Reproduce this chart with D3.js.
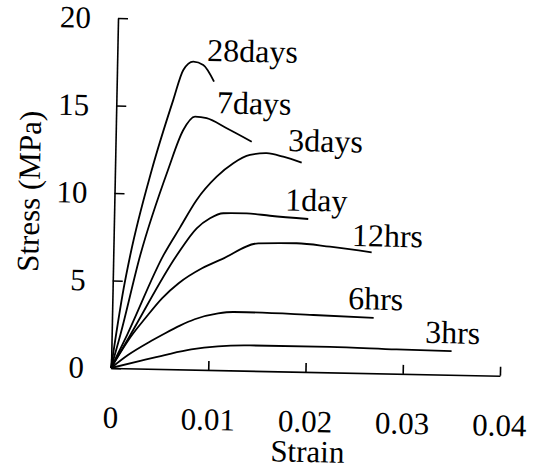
<!DOCTYPE html>
<html>
<head>
<meta charset="utf-8">
<script src="https://cdnjs.cloudflare.com/ajax/libs/d3/7.8.5/d3.min.js"></script>
<style>
  body { margin: 0; background: #fff; }
  svg { display: block; font-family: "Liberation Serif", "Times New Roman", serif; }
</style>
</head>
<body>
<svg id="chart" width="541" height="472"></svg>
<script>
// stress-strain curves, each point is [strain, stress in MPa]
const days28 = [[0, 0], [0.00114, 4.57], [0.00175, 6.48], [0.00378, 11.36], [0.00585, 15.39],
  [0.00682, 17.11], [0.00783, 17.6], [0.00886, 17.42], [0.0100, 16.48]];
const days7 = [[0, 0], [0.00089, 1.9], [0.00278, 6.49], [0.00545, 11.38], [0.00694, 13.68],
  [0.00812, 14.46], [0.00932, 14.38], [0.0114, 13.83], [0.0140, 13.09]];
const days3 = [[0, 0], [0.00158, 1.9], [0.00518, 6.52], [0.0068, 8.1], [0.00846, 9.7],
  [0.01047, 11.05], [0.01215, 11.84], [0.01385, 12.33], [0.01556, 12.45], [0.01727, 12.27], [0.01918, 11.95]];
const day1 = [[0, 0], [0.00192, 1.91], [0.00655, 6.53], [0.00852, 8.08], [0.00987, 8.67],
  [0.01122, 8.97], [0.01363, 8.99], [0.01603, 8.88], [0.01997, 8.74]];
const hrs12 = [[0, 0], [0.00209, 1.91], [0.00342, 2.88], [0.0051, 4.04], [0.00678, 4.92],
  [0.00915, 5.8], [0.01119, 6.35], [0.01488, 7.29], [0.01883, 7.34], [0.02226, 7.18], [0.02656, 6.91]];
const hrs6 = [[0, 0], [0.00172, 0.76], [0.0041, 1.6], [0.0055, 2.05], [0.007, 2.5], [0.0085, 2.88],
  [0.0109, 3.24], [0.0125, 3.34], [0.0138, 3.34], [0.0207, 3.26], [0.0269, 3.17]];
const hrs3 = [[0, 0], [0.0031, 0.45], [0.00583, 0.85], [0.00821, 1.15], [0.01095, 1.36],
  [0.01424, 1.45], [0.02246, 1.46], [0.02932, 1.39], [0.03498, 1.36]];

const curveNames = ["28days", "7days", "3days", "1day", "12hrs", "6hrs", "3hrs"];
const curves = [days28, days7, days3, day1, hrs12, hrs6, hrs3];
// where each curve name sits (strain, stress)
const labelStrain = [0.00924, 0.01034, 0.01775, 0.01756, 0.02449, 0.02424, 0.03222];
const labelStress = [17.65, 14.67, 12.6, 9.2, 7.25, 3.64, 1.8];

const strainTicks = [0, 0.01, 0.02, 0.03, 0.04];
const stressTicks = [0, 5, 10, 15, 20];

const svg = d3.select("#chart");
const plotW = 389, plotH = 350;

// the scanned figure is tilted a bit, so tilt the plot too
const g = svg.append("g")
  .attr("transform", `translate(111,368) rotate(1.15) translate(0,${-plotH})`);

const x = d3.scaleLinear().domain([0, 0.04]).range([0, plotW]);
const y = d3.scaleLinear().domain([0, 20]).range([plotH, 0]);

// x axis, ticks pointing up
const xAxis = g.append("g")
  .attr("transform", `translate(0,${plotH})`)
  .call(d3.axisBottom(x)
    .tickValues(strainTicks)
    .tickSize(-9)
    .tickSizeOuter(0)
    .tickFormat(d => d === 0 ? "0" : d3.format(".2f")(d)));
xAxis.attr("font-size", null).attr("font-family", null);
xAxis.selectAll("text").attr("y", 60).attr("dy", null).style("font-size", "31px");

// y axis, ticks pointing right
const yAxis = g.append("g")
  .call(d3.axisLeft(y)
    .tickValues(stressTicks)
    .tickSize(-10)
    .tickSizeOuter(0)
    .tickPadding(27));
yAxis.attr("font-size", null).attr("font-family", null);
yAxis.selectAll("text").attr("dy", "0.32em").style("font-size", "31px");

g.selectAll(".domain, .tick line").attr("stroke-width", 1.6);

g.append("text")
  .attr("x", 198)
  .attr("y", plotH + 90)
  .attr("text-anchor", "middle")
  .style("font-size", "31px")
  .text("Strain");

g.append("text")
  .attr("transform", `translate(-75,${plotH / 2}) rotate(-90)`)
  .attr("text-anchor", "middle")
  .style("font-size", "31px")
  .text("Stress (MPa)");

const line = d3.line()
  .x(d => x(d[0]))
  .y(d => y(d[1]))
  .curve(d3.curveMonotoneX);

g.selectAll(".curve")
  .data(curves)
  .join("path")
  .attr("class", "curve")
  .attr("d", line)
  .attr("fill", "none")
  .attr("stroke", "#000")
  .attr("stroke-width", 1.8);

g.selectAll(".lbl")
  .data(curveNames)
  .join("text")
  .attr("class", "lbl")
  .attr("x", (d, i) => x(labelStrain[i]))
  .attr("y", (d, i) => y(labelStress[i]))
  .style("font-size", "32px")
  .text(d => d);
</script>
</body>
</html>
